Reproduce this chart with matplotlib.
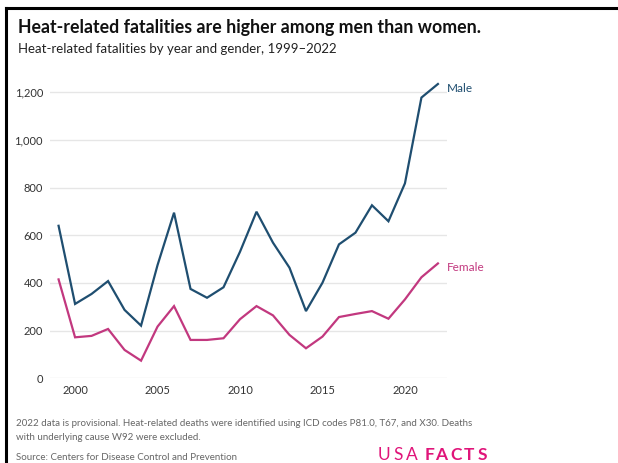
import matplotlib
matplotlib.use("Agg")
import matplotlib.pyplot as plt
from matplotlib.lines import Line2D

years = list(range(1999, 2023))
male = [640, 312, 354, 408, 287, 221, 475, 695, 375, 338, 382, 531, 699, 569,
        464, 282, 401, 562, 611, 726, 659, 818, 1178, 1235]
female = [415, 172, 178, 207, 119, 74, 217, 303, 161, 161, 168, 248, 303, 264,
          182, 126, 175, 257, 270, 282, 250, 331, 424, 482]
yticks = [0, 200, 400, 600, 800, 1000, 1200]
xticks = [2000, 2005, 2010, 2015, 2020]

MALE_C = "#1f4e70"
FEMALE_C = "#c2387f"
LOGO_C = "#e0157a"
plt.rcParams['font.family'] = ['Lato', 'DejaVu Sans']

fig = plt.figure(figsize=(6.18, 4.63), dpi=100)
W, H = 618, 463

def fx(px): return px / W
def fy(py): return 1 - py / H

ax = fig.add_axes([fx(50), fy(378.3), fx(447) - fx(50), fy(68.5) - fy(378.3)])
ax.plot(years, male, color=MALE_C, lw=1.6, solid_joinstyle='miter')
ax.plot(years, female, color=FEMALE_C, lw=1.6, solid_joinstyle='miter')
ax.set_xlim(1998.48, 2022.55)
ax.set_ylim(0, 1300)
ax.set_yticks(yticks)
ax.set_yticklabels([f"{v:,}" for v in yticks])
ax.set_xticks(xticks)
ax.grid(axis='y', color='#e6e6e6', lw=1)
ax.set_axisbelow(True)
for s in ax.spines.values():
    s.set_visible(False)
ax.tick_params(length=0, labelsize=8, colors='#333333', pad=5)

ax.annotate("Male", (years[-1], male[-1]), xytext=(6.5, -3), textcoords='offset points',
            color=MALE_C, fontsize=8.5, va='center', ha='left')
ax.annotate("Female", (years[-1], female[-1]), xytext=(6.5, -3), textcoords='offset points',
            color=FEMALE_C, fontsize=8.5, va='center', ha='left')

fig.text(fx(18), fy(27), "Heat-related fatalities are higher among men than women.",
         fontsize=12.8, fontweight='bold', color='#111111', va='center', ha='left')
fig.text(fx(18), fy(49), "Heat-related fatalities by year and gender, 1999\u20132022",
         fontsize=9.5, color='#222222', va='center', ha='left')
fig.text(fx(16), fy(424), "2022 data is provisional. Heat-related deaths were identified using ICD codes P81.0, T67, and X30. Deaths",
         fontsize=7, color='#666666', va='center', ha='left')
fig.text(fx(16), fy(438), "with underlying cause W92 were excluded.",
         fontsize=7, color='#666666', va='center', ha='left')
fig.text(fx(16), fy(457), "Source: Centers for Disease Control and Prevention",
         fontsize=7, color='#666666', va='center', ha='left')

# logo with wide letter spacing
logo = [("U", 378, 'normal'), ("S", 393, 'normal'), ("A", 406, 'normal'),
        ("F", 424.5, 'bold'), ("A", 435.5, 'bold'), ("C", 450, 'bold'),
        ("T", 463.5, 'bold'), ("S", 477.5, 'bold')]
for ch, px, wt in logo:
    fig.text(fx(px), fy(455.5), ch, fontsize=12.5, fontweight=wt, color=LOGO_C,
             va='center', ha='left')

# frame lines (top and left)
fig.add_artist(Line2D([fx(6), 1], [fy(8), fy(8)], color='black', lw=2.2))
fig.add_artist(Line2D([fx(6), fx(6)], [fy(8), 0], color='black', lw=2.2))

fig.savefig("out.png", dpi=100)
